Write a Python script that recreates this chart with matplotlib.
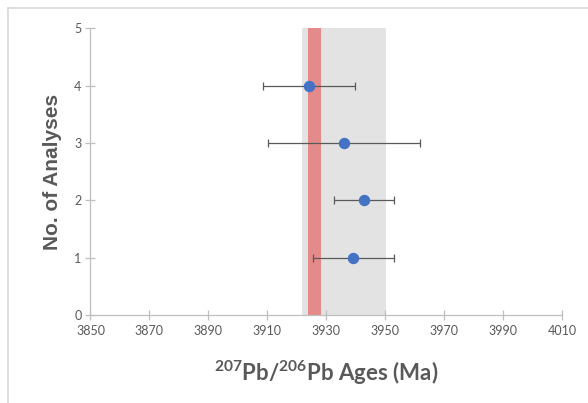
import numpy as np
import matplotlib
matplotlib.use('Agg')
import matplotlib.pyplot as plt
from matplotlib.lines import Line2D

plt.rc('font', family=['Lato', 'DejaVu Sans'], size=9)
plt.rc('mathtext', fontset='custom', rm='Lato:bold', it='Lato:bold', bf='Lato:bold')

# data
ages = [3939.2, 3942.8, 3936.0, 3924.1]      # Ma
errs = [13.7, 10.3, 25.8, 15.7]              # +/- Ma
analyses = [1, 2, 3, 4]
grey_band = (3921.7, 3950.2)
red_band = (3923.9, 3928.2)
xticks = np.arange(3850, 4011, 20)
yticks = np.arange(0, 6, 1)

txt = '#595959'
axc = '#BFBFBF'

fig = plt.figure(figsize=(5.88, 4.03), dpi=100)
ax = fig.add_axes([0.1539, 0.2184, 0.8019, 0.7114])

ax.axvspan(grey_band[0], grey_band[1], color='#E3E3E3', lw=0, zorder=1)
ax.axvspan(red_band[0], red_band[1], color='#E48A8A', lw=0, zorder=2)
ax.errorbar(ages, analyses, xerr=errs, fmt='o', color='#4472C4', ms=7.2,
            ecolor='#595959', elinewidth=0.9, capsize=3, capthick=0.9, zorder=3)

ax.set_xlim(3850, 4010)
ax.set_ylim(0, 5)
ax.set_xticks(xticks)
ax.set_yticks(yticks)
for s in ['top', 'right']:
    ax.spines[s].set_visible(False)
for s in ['left', 'bottom']:
    ax.spines[s].set_color(axc)
    ax.spines[s].set_linewidth(0.9)
ax.tick_params(direction='inout', length=7, width=0.9, color=axc, labelcolor=txt,
               labelsize=9)
ax.tick_params(axis='x', pad=4)
ax.tick_params(axis='y', pad=3)
ax.set_xlabel(r'$^{207}$Pb/$^{206}$Pb Ages (Ma)', fontsize=16, fontweight='bold',
              color=txt, labelpad=15)
ax.set_ylabel('No. of Analyses', family='Liberation Sans', fontsize=15,
              fontweight='bold', color=txt, labelpad=9)

# chart frame (top and left edge)
fig.add_artist(Line2D([7.5/588, 1], [1-7.5/403]*2, color='#D9D9D9', lw=1.2))
fig.add_artist(Line2D([7.5/588]*2, [0, 1-7.5/403], color='#D9D9D9', lw=1.2))

plt.savefig('out.png', dpi=100)
